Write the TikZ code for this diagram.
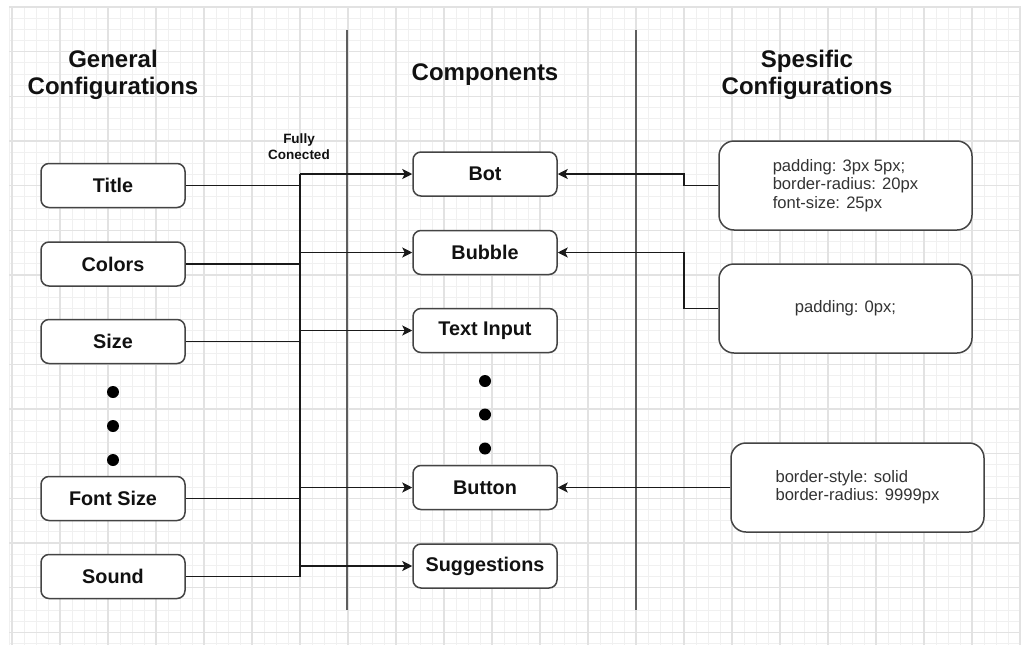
\documentclass[tikz,border=0pt]{standalone}
\usepackage{fontspec}
\setmainfont{Liberation Sans}
\usetikzlibrary{arrows.meta}

\definecolor{minorgrid}{HTML}{F0F0F0}
\definecolor{majorgrid}{HTML}{E2E2E2}
\definecolor{boxline}{HTML}{444444}
\definecolor{wire}{HTML}{1A1A1A}
\definecolor{divider}{HTML}{5E5E5E}
\definecolor{ink}{HTML}{111111}
\definecolor{cssink}{HTML}{333333}

\tikzset{
  gridminor/.style={draw=minorgrid, line width=1pt},
  gridmajor/.style={draw=majorgrid, line width=1.3pt},
  heading/.style={font=\bfseries\fontsize{24}{26.7}\selectfont, text=ink, align=center, inner sep=0},
  note/.style={font=\bfseries\fontsize{13.5}{16}\selectfont, text=ink, align=center, inner sep=0},
  itembox/.style={draw=boxline, line width=1.5pt, rounded corners=8pt, fill=white,
    minimum width=144pt, minimum height=44pt, inner sep=0,
    font=\bfseries\fontsize{19.8}{22}\selectfont, text=ink},
  cssbox/.style={draw=boxline, line width=1.5pt, rounded corners=15pt, fill=white,
    minimum width=253pt, minimum height=89pt, inner sep=0, align=left,
    font=\fontsize{16.6}{18.3}\selectfont, text=cssink},
  wireline/.style={draw=wire, line width=1.8pt},
  arrowline/.style={wireline, -{Stealth[length=10pt, width=10pt, inset=2.5pt]}},
  sep/.style={draw=divider, line width=1.7pt},
  bullet/.style={circle, fill=black, inner sep=0, minimum size=12pt},
}

\begin{document}
\begin{tikzpicture}[x=1pt, y=-1pt]
  \useasboundingbox (0,0) rectangle (1021,651);
  \fill[white] (0,0) rectangle (1021,651);

  % background grid
  \foreach \x in {9,12,24,...,1020} \draw[gridminor] (\x,7) -- (\x,645);
  \foreach \j in {0,...,57} \draw[gridminor] (9,{7+11.1667*\j}) -- (1021,{7+11.1667*\j});
  \foreach \x in {12,60,...,1020} \draw[gridmajor] (\x,7) -- (\x,645);
  \foreach \j in {0,...,14} \draw[gridmajor] (9,{7+44.667*\j}) -- (1021,{7+44.667*\j});

  % column separators
  \coordinate (sepAtop) at (347,30);
  \coordinate (sepAbot) at (347,610);
  \coordinate (sepBtop) at (636,30);
  \coordinate (sepBbot) at (636,610);
  \draw[sep] (sepAtop) -- (sepAbot);
  \draw[sep] (sepBtop) -- (sepBbot);

  % column headings
  \node[heading] (hgen)  at (113,75) {General\\Configurations};
  \node[heading] (hcomp) at (485,75) {Components};
  \node[heading] (hspec) at (807,75) {Spesific\\Configurations};
  \node[note] (fully) at (299,147) {Fully\\Conected};

  % general configurations
  \node[itembox] (title)    at (113,185.5) {Title};
  \node[itembox] (colors)   at (113,264)   {Colors};
  \node[itembox] (size)     at (113,341.5) {Size};
  \node[itembox] (fontsize) at (113,498.5) {Font Size};
  \node[itembox] (sound)    at (113,576.5) {Sound};
  \node[bullet] (gd1) at (113,392) {};
  \node[bullet] (gd2) at (113,426) {};
  \node[bullet] (gd3) at (113,460) {};

  % components
  \node[itembox] (bot)     at (485,174)   {Bot};
  \node[itembox] (bubble)  at (485,252.5) {Bubble};
  \node[itembox] (textin)  at (485,330.5) {Text Input};
  \node[itembox] (button)  at (485,487.5) {Button};
  \node[itembox] (suggest) at (485,566)   {Suggestions};
  \node[bullet] (cd1) at (485,381) {};
  \node[bullet] (cd2) at (485,414.5) {};
  \node[bullet] (cd3) at (485,448.5) {};

  % specific configurations
  \node[cssbox] (css1) at (845.5,185.5) {padding: 3px 5px;\\border-radius: 20px\\font-size: 25px};
  \node[cssbox] (css2) at (845.5,308.5) {padding: 0px;};
  \node[cssbox] (css3) at (857.5,487.5) {border-style: solid\\border-radius: 9999px};

  % fully connected bus
  \coordinate (busT) at (300,174);
  \coordinate (busB) at (300,576.5);
  \draw[wireline] (busT) -- (busB);
  \foreach \g in {title,colors,size,fontsize,sound}
    \draw[wireline] (\g.east) -- (\g.east -| busT);
  \draw[arrowline] (busT) -- (bot.west);
  \foreach \c in {bubble,textin,button,suggest}
    \draw[arrowline] (\c.west -| busT) -- (\c.west);

  % specific configurations to components
  \coordinate (jog) at (684,0);
  \draw[arrowline] (css1.west) -- (css1.west -| jog) |- (bot.east);
  \draw[arrowline] (css2.west) -- (css2.west -| jog) |- (bubble.east);
  \draw[arrowline] (css3.west) -- (button.east);
\end{tikzpicture}
\end{document}
